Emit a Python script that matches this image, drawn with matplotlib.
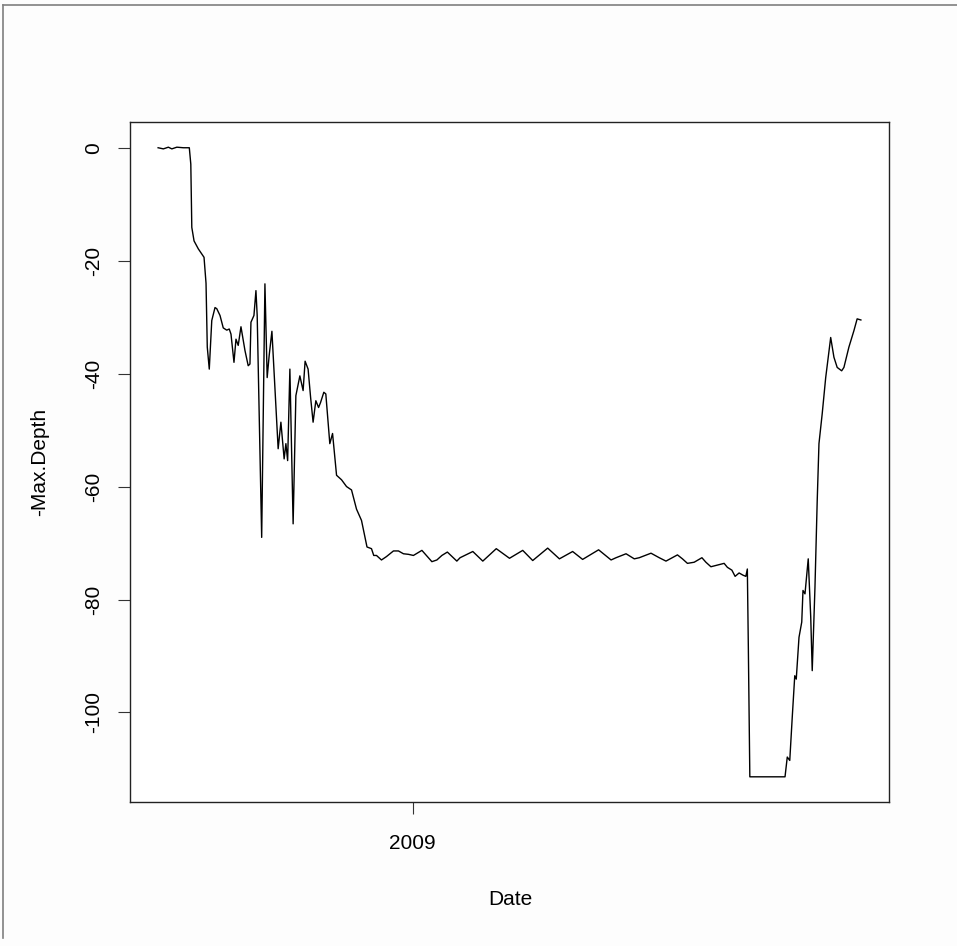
import datetime as dt
import numpy as np
import matplotlib
matplotlib.use('Agg')
import matplotlib.pyplot as plt
import matplotlib.dates as mdates
from matplotlib.lines import Line2D

plt.rcParams['font.family'] = ['Liberation Sans', 'DejaVu Sans']

# days since the first record
start_date = dt.datetime(2008, 6, 11)
day_offset = [
    0.0, 4.2, 8.2, 11.0, 15.0, 20.2, 25.0, 26.2, 27.0, 28.8, 32.2, 35.8, 36.8,
    38.4, 39.4, 41.0, 43.0, 45.6, 47.0, 49.6, 52.2, 55.0, 57.0, 58.4, 60.8,
    62.4, 64.2, 66.4, 69.6, 72.2, 73.6, 74.4, 76.8, 78.4, 79.4, 83.0, 85.6,
    87.4, 89.0, 91.2, 96.2, 98.4, 101.0, 102.4, 103.8, 105.6, 108.2, 110.4,
    113.6, 116.2, 117.8, 120.2, 122.2, 124.2, 126.4, 128.6, 130.2, 132.8,
    134.4, 137.6, 139.8, 143.0, 147.0, 151.0, 155.0, 159.0, 163.0, 167.4,
    171.0, 172.8, 175.0, 179.0, 183.0, 188.6, 192.6, 196.6, 200.6, 204.6,
    211.4, 219.4, 223.4, 227.4, 231.8, 239.4, 242.0, 252.2, 260.2, 271.0,
    281.6, 292.2, 300.2, 312.2, 321.6, 332.2, 340.2, 353.0, 363.0, 367.0,
    375.0, 381.6, 385.6, 395.0, 401.6, 407.0, 416.2, 420.2, 424.2, 429.6,
    435.8, 439.0, 443.0, 450.2, 453.6, 456.2, 459.8, 462.4, 465.6, 468.8,
    471.0, 472.2, 473.0, 474.2, 502.4, 504.2, 506.2, 508.2, 510.2, 511.4,
    513.6, 515.8, 516.8, 518.4, 521.0, 523.0, 524.2, 526.4, 528.2, 529.6,
    532.2, 535.0, 539.0, 541.6, 544.2, 547.8, 549.6, 553.6, 557.6, 560.2,
    563.2,
]
neg_max_depth = [
    0.0, -0.2, 0.1, -0.2, 0.1, 0.0, 0.0, -2.9, -14.1, -16.5, -17.9, -19.1, -19.4,
    -24.0, -35.3, -39.2, -30.6, -28.3, -28.5, -29.7, -31.9, -32.3, -32.1, -33.0,
    -38.0, -33.9, -35.0, -31.7, -35.9, -38.6, -38.3, -30.9, -29.7, -25.3, -29.7,
    -69.0, -24.1, -40.7, -36.8, -32.5, -53.3, -48.6, -55.1, -52.4, -55.4, -39.2,
    -66.6, -43.9, -40.4, -43.0, -37.8, -39.2, -44.2, -48.6, -44.8, -46.0, -45.1,
    -43.3, -43.6, -52.4, -50.6, -58.0, -58.8, -60.0, -60.6, -64.0, -66.0, -70.7,
    -71.0, -72.2, -72.2, -73.0, -72.4, -71.4, -71.4, -71.9, -72.0, -72.2,
    -71.3, -73.3, -73.0, -72.2, -71.6, -73.2, -72.6, -71.5, -73.2, -71.0,
    -72.7, -71.3, -73.1, -70.9, -72.8, -71.5, -72.9, -71.2, -73.0, -72.6,
    -71.9, -72.8, -72.6, -71.8, -72.6, -73.2, -72.1, -72.8, -73.6, -73.4,
    -72.6, -73.4, -74.2, -73.8, -73.6, -74.3, -74.8, -75.9, -75.3, -75.7,
    -75.9, -74.6, -88.4, -111.4, -111.4, -107.9, -108.5, -100.8, -93.5, -94.1,
    -86.7, -84.0, -78.4, -79.0, -72.8, -83.1, -92.6, -77.8, -62.5, -52.4,
    -47.1, -40.7, -33.6, -37.1, -38.9, -39.5, -38.9, -35.3, -32.4, -30.3,
    -30.5,
]
y_ticks = [0, -20, -40, -60, -80, -100]
x_tick_dates = [dt.datetime(2009, 1, 1)]
x_tick_labels = ['2009']

W, H = 957, 946
fig = plt.figure(figsize=(W / 100, H / 100), dpi=100)
fig.patch.set_facecolor('#fdfdfd')

# plot box in pixels: x 130..889, y 122..802
ax = fig.add_axes([130 / W, 1 - 802 / H, (889 - 130) / W, (802 - 122) / H])
ax.set_facecolor('white')

x = mdates.date2num(start_date) + np.array(day_offset)
y = np.array(neg_max_depth)
ax.plot(x, y, color='black', lw=1.0, solid_joinstyle='round')

# R style 4% padding
xr = x.max() - x.min()
yr = y.max() - y.min()
ax.set_xlim(x.min() - 0.04 * xr, x.max() + 0.04 * xr)
ax.set_ylim(y.min() - 0.04 * yr, y.max() + 0.04 * yr)

ax.set_xticks(mdates.date2num(x_tick_dates))
ax.set_xticklabels(x_tick_labels)
ax.set_yticks(y_ticks)
ax.set_yticklabels([str(v) for v in y_ticks], rotation=90, va='center')

ax.tick_params(axis='both', direction='out', length=8.6, width=0.8,
               color='#333333', labelsize=15, labelcolor='black')
ax.tick_params(axis='x', pad=14.5)
ax.tick_params(axis='y', pad=11)
for s in ax.spines.values():
    s.set_linewidth(1.0)
    s.set_color('#222222')

fig.text(510 / W, 1 - 905 / H, 'Date', ha='center', va='baseline', fontsize=15)
fig.text(45 / W, 1 - 462 / H, '-Max.Depth', ha='center', va='baseline',
         rotation=90, rotation_mode='anchor', fontsize=15)

# screenshot frame, top and left
fig.add_artist(Line2D([3 / W, 1], [1 - 5 / H, 1 - 5 / H], color='#808080', lw=1.2))
fig.add_artist(Line2D([3 / W, 3 / W], [1 - 5 / H, 1 - 938 / H], color='#808080', lw=1.2))

fig.savefig('out.png', dpi=100)
